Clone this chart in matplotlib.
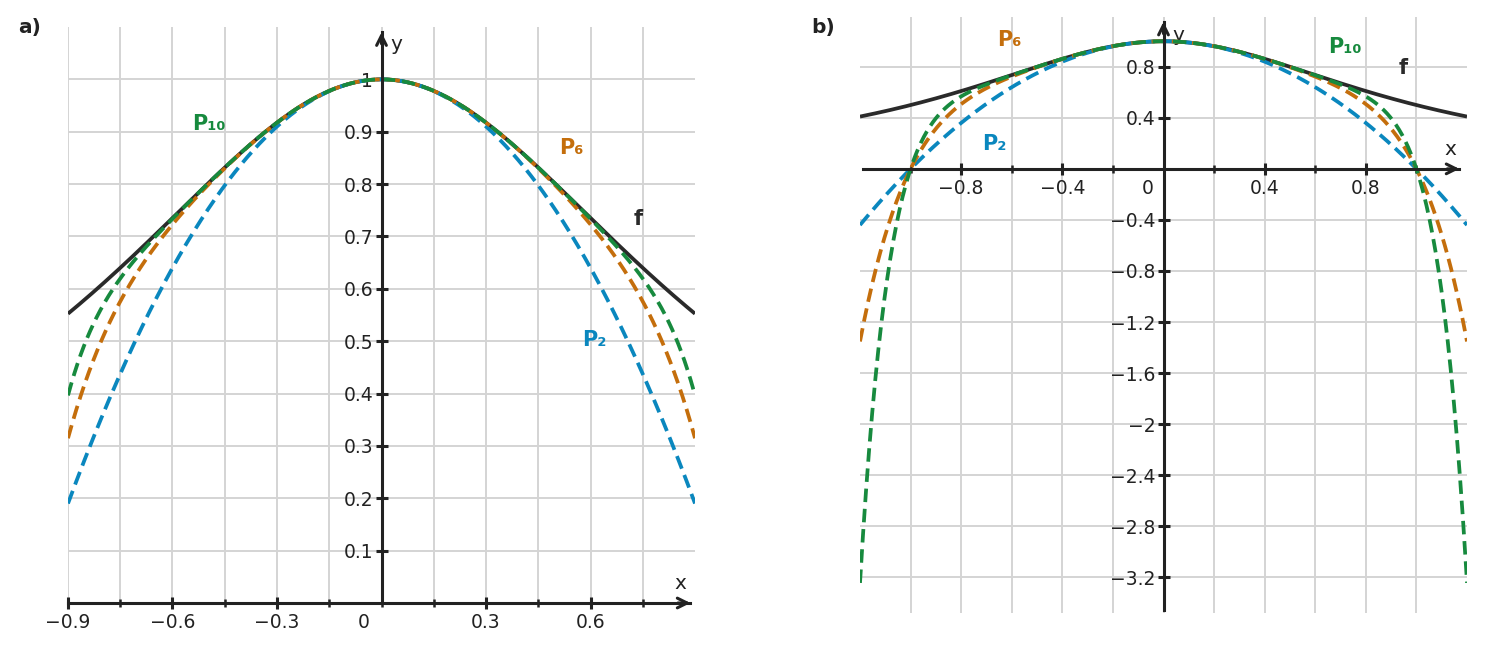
import numpy as np
import matplotlib
matplotlib.use("Agg")
import matplotlib.pyplot as plt
from matplotlib.ticker import FixedLocator, FixedFormatter
from numpy.polynomial import polynomial as npoly

# ---- data: f(x) = 1/(1+x^2) and its Taylor polynomials ----
taylor_coeffs = [1, 0, -1, 0, 1, 0, -1, 0, 1, 0, -1]   # coefficients of x^k
poly_degrees = [2, 6, 10]
poly_names = ["P\u2082", "P\u2086", "P\u2081\u2080"]

range_a = (-0.9, 0.9)
range_b = (-1.2, 1.2)

a_xmajor = [-0.9, -0.6, -0.3, 0.3, 0.6]
a_xminor = [-0.75, -0.45, -0.15, 0.0, 0.15, 0.45, 0.75]
a_ymajor = [0.1, 0.2, 0.3, 0.4, 0.5, 0.6, 0.7, 0.8, 0.9, 1.0]
a_xlabels = ["\u22120.9", "\u22120.6", "\u22120.3", "0.3", "0.6"]
a_ylabels = ["0.1", "0.2", "0.3", "0.4", "0.5", "0.6", "0.7", "0.8", "0.9", "1"]

b_xmajor = [-0.8, -0.4, 0.4, 0.8]
b_xminor = [-1.0, -0.6, -0.2, 0.0, 0.2, 0.6, 1.0]
b_ymajor = [-3.2, -2.8, -2.4, -2.0, -1.6, -1.2, -0.8, -0.4, 0.4, 0.8]
b_xlabels = ["\u22120.8", "\u22120.4", "0.4", "0.8"]
b_ylabels = ["\u22123.2", "\u22122.8", "\u22122.4", "\u22122", "\u22121.6", "\u22121.2",
             "\u22120.8", "\u22120.4", "0.4", "0.8"]

# ---- styles ----
C_F = "#2a2a2a"
C_P = {2: "#0a87be", 6: "#c46e0c", 10: "#178a3e"}
AX_C = "#222222"
GRID_C = "#d4d4d4"
TICK_FS = 13.5
LAB_FS = 15

fig = plt.figure(figsize=(14.86, 6.52), dpi=100)
W, H = 1486.0, 652.0


def px_axes(left, right, top, bottom):
    return fig.add_axes([left / W, (H - bottom) / H, (right - left) / W, (bottom - top) / H])


def setup(ax, xr, ylim, xmaj, xmin, ymaj, xl, yl, xspan, yspan):
    ax.set_xlim(*xr)
    ax.set_ylim(*ylim)
    for s in ["top", "right"]:
        ax.spines[s].set_visible(False)
    ax.spines["left"].set_position(("data", 0))
    ax.spines["bottom"].set_position(("data", 0))
    for s in ["left", "bottom"]:
        ax.spines[s].set_color(AX_C)
        ax.spines[s].set_linewidth(2.2)
        ax.spines[s].set_zorder(5)
    ax.spines["left"].set_bounds(*yspan)
    ax.spines["bottom"].set_bounds(*xspan)
    ax.xaxis.set_major_locator(FixedLocator(xmaj))
    ax.xaxis.set_minor_locator(FixedLocator(xmin))
    ax.yaxis.set_major_locator(FixedLocator(ymaj))
    ax.xaxis.set_major_formatter(FixedFormatter(xl))
    ax.yaxis.set_major_formatter(FixedFormatter(yl))
    ax.tick_params(which="major", direction="inout", length=8, width=2.2, color=AX_C,
                   labelsize=TICK_FS, labelcolor=AX_C)
    ax.tick_params(axis="x", which="major", pad=3)
    ax.tick_params(axis="y", which="major", pad=2)
    ax.tick_params(which="minor", direction="inout", length=6, width=1.8, color=AX_C)
    ax.grid(True, which="both", color=GRID_C, linewidth=1.4)
    ax.set_axisbelow(True)
    # arrow heads
    dx = (xr[1] - xr[0]) * 0.02
    dy = (ylim[1] - ylim[0]) * 0.02
    ax.annotate("", xy=(xspan[1], 0), xytext=(xspan[1] - dx, 0),
                arrowprops=dict(arrowstyle="->,head_length=0.7,head_width=0.35", lw=2.2, color=AX_C,
                                shrinkA=0, shrinkB=0),
                annotation_clip=False, zorder=6)
    ax.annotate("", xy=(0, yspan[1]), xytext=(0, yspan[1] - dy),
                arrowprops=dict(arrowstyle="->,head_length=0.7,head_width=0.35", lw=2.2, color=AX_C,
                                shrinkA=0, shrinkB=0),
                annotation_clip=False, zorder=6)


def draw_curves(ax, xr):
    x = np.linspace(xr[0], xr[1], 600)
    ax.plot(x, 1.0 / (1.0 + x ** 2), color=C_F, lw=2.7, solid_capstyle="butt", zorder=3)
    for d in poly_degrees:
        y = npoly.polyval(x, taylor_coeffs[:d + 1])
        ax.plot(x, y, color=C_P[d], lw=2.7, linestyle=(0, (3.6, 1.8)), zorder=3 + d / 10.0)


# ---- panel a ----
axa = px_axes(68, 695, 27, 603)
setup(axa, range_a, (0, 1.1), a_xmajor, a_xminor, a_ymajor, a_xlabels, a_ylabels,
      (-0.9, 0.887), (0, 1.09))
draw_curves(axa, range_a)
axa.annotate("0", xy=(0, 0), xytext=(-13, -14), textcoords="offset points",
             ha="center", va="center", fontsize=TICK_FS, color=AX_C)
axa.text(0.043, 1.066, "y", fontsize=14.5, ha="center", va="center", color=AX_C)
axa.text(0.858, 0.038, "x", fontsize=14.5, ha="center", va="center", color=AX_C)
axa.text(-0.497, 0.915, poly_names[2], color=C_P[10], fontsize=LAB_FS, fontweight="bold", ha="center", va="center")
axa.text(0.545, 0.869, poly_names[1], color=C_P[6], fontsize=LAB_FS, fontweight="bold", ha="center", va="center")
axa.text(0.738, 0.733, "f", color=C_F, fontsize=LAB_FS, fontweight="bold", ha="center", va="center")
axa.text(0.612, 0.502, poly_names[0], color=C_P[2], fontsize=LAB_FS, fontweight="bold", ha="center", va="center")

# ---- panel b ----
axb = px_axes(860, 1467, 17, 613)
setup(axb, range_b, (-3.48, 1.19), b_xmajor, b_xminor, b_ymajor, b_xlabels, b_ylabels,
      (-1.19, 1.17), (-3.46, 1.153))
draw_curves(axb, range_b)
axb.annotate("0", xy=(0, 0), xytext=(-11.5, -14), textcoords="offset points",
             ha="center", va="center", fontsize=TICK_FS, color=AX_C)
axb.text(0.059, 1.043, "y", fontsize=14.5, ha="center", va="center", color=AX_C)
axb.text(1.133, 0.149, "x", fontsize=14.5, ha="center", va="center", color=AX_C)
axb.text(-0.608, 1.012, poly_names[1], color=C_P[6], fontsize=LAB_FS, fontweight="bold", ha="center", va="center")
axb.text(0.718, 0.957, poly_names[2], color=C_P[10], fontsize=LAB_FS, fontweight="bold", ha="center", va="center")
axb.text(0.949, 0.792, "f", color=C_F, fontsize=LAB_FS, fontweight="bold", ha="center", va="center")
axb.text(-0.667, 0.196, poly_names[0], color=C_P[2], fontsize=LAB_FS, fontweight="bold", ha="center", va="center")

fig.text(30 / W, 1 - 27 / H, "a)", fontsize=14.5, fontweight="bold", ha="center", va="center", color=AX_C)
fig.text(823 / W, 1 - 27 / H, "b)", fontsize=14.5, fontweight="bold", ha="center", va="center", color=AX_C)

fig.savefig("out.png", dpi=100)
